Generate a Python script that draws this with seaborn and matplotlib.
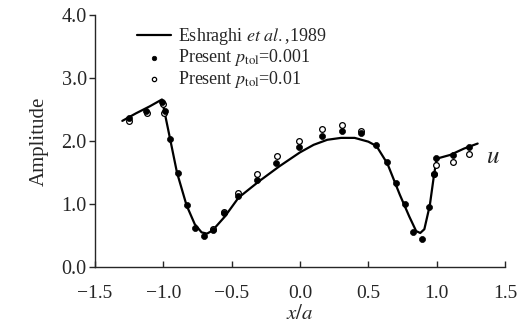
import matplotlib
matplotlib.use("Agg")
import matplotlib.pyplot as plt
import seaborn as sns
import pandas as pd

# Eshraghi et al., 1989 (solid line)
line_x = [-1.30, -1.20, -1.10, -1.01, -0.95, -0.90, -0.83, -0.77, -0.72, -0.68, -0.64,
          -0.55, -0.45, -0.30, -0.15, 0.00, 0.10, 0.20, 0.30, 0.40, 0.50, 0.56, 0.64,
          0.73, 0.80, 0.85, 0.88, 0.91, 0.95, 0.98, 1.00, 1.10, 1.20, 1.30]
line_y = [2.32, 2.44, 2.55, 2.66, 2.03, 1.50, 0.98, 0.68, 0.55, 0.53, 0.58,
          0.80, 1.10, 1.36, 1.60, 1.82, 1.94, 2.02, 2.05, 2.05, 1.99, 1.92, 1.64,
          1.15, 0.80, 0.57, 0.54, 0.60, 0.98, 1.45, 1.72, 1.78, 1.88, 1.96]

# Present p_tol = 0.001 (filled dots)
p1_x = [-1.25, -1.125, -1.01, -0.985, -0.95, -0.896, -0.83, -0.768, -0.705, -0.64,
        -0.558, -0.454, -0.317, -0.172, -0.01, 0.16, 0.31, 0.444, 0.553, 0.638,
        0.705, 0.766, 0.83, 0.893, 0.947, 0.983, 0.995, 1.116, 1.237]
p1_y = [2.37, 2.48, 2.62, 2.48, 2.03, 1.49, 0.98, 0.62, 0.49, 0.59,
        0.85, 1.13, 1.38, 1.65, 1.90, 2.08, 2.16, 2.12, 1.94, 1.66,
        1.33, 0.995, 0.56, 0.44, 0.96, 1.48, 1.73, 1.78, 1.91]

# Present p_tol = 0.01 (open circles)
p2_x = [-1.25, -1.12, -1.005, -0.998, -0.64, -0.558, -0.45, -0.317, -0.17, -0.01,
        0.16, 0.31, 0.444, 0.98, 0.995, 1.116, 1.24]
p2_y = [2.32, 2.45, 2.59, 2.44, 0.61, 0.88, 1.18, 1.48, 1.77, 2.00,
        2.19, 2.25, 2.16, 1.48, 1.62, 1.67, 1.79]

sns.set_style("ticks")
plt.rcParams['font.family'] = ['Liberation Serif', 'DejaVu Serif']
plt.rcParams['mathtext.fontset'] = 'stix'

fig = plt.figure(figsize=(5.19, 3.35), dpi=100)
ax = fig.add_axes([0.183, 0.203, 0.790, 0.752])

df_line = pd.DataFrame({"x": line_x, "y": line_y})
df_p1 = pd.DataFrame({"x": p1_x, "y": p1_y})
df_p2 = pd.DataFrame({"x": p2_x, "y": p2_y})

sns.lineplot(data=df_line, x="x", y="y", ax=ax, color="black", linewidth=1.6,
             label="Eshraghi $\\it{et\\ al.}$,1989", sort=False)
sns.scatterplot(data=df_p2, x="x", y="y", ax=ax, marker="o", s=17,
                facecolor="white", edgecolor="black", linewidth=0.9,
                label="Present $p_{\\rm tol}$=0.01", zorder=3)
sns.scatterplot(data=df_p1, x="x", y="y", ax=ax, marker="o", s=19,
                color="black", edgecolor="black", linewidth=0.5,
                label="Present $p_{\\rm tol}$=0.001", zorder=4)

handles, labels = ax.get_legend_handles_labels()
order = [0, 2, 1]
ax.legend([handles[i] for i in order], [labels[i] for i in order],
          loc="upper left", bbox_to_anchor=(0.085, 0.985), frameon=False,
          fontsize=13, handlelength=1.9, handletextpad=0.35, labelspacing=0.02,
          borderaxespad=0.0, markerscale=0.75)

ax.set_xlim(-1.5, 1.5)
ax.set_ylim(0.0, 4.0)
ax.set_xticks([-1.5, -1.0, -0.5, 0.0, 0.5, 1.0, 1.5])
ax.set_yticks([0.0, 1.0, 2.0, 3.0, 4.0])
ax.set_xticklabels(["\u22121.5", "\u22121.0", "\u22120.5", "0.0", "0.5", "1.0", "1.5"])
ax.set_yticklabels(["0.0", "1.0", "2.0", "3.0", "4.0"])
ax.tick_params(axis="x", direction="in", length=4, width=1, labelsize=14, pad=13)
ax.tick_params(axis="y", direction="out", length=4, width=1, labelsize=14.5, pad=2)
for s in ["top", "right"]:
    ax.spines[s].set_visible(False)
for s in ["left", "bottom"]:
    ax.spines[s].set_linewidth(1.0)

ax.set_xlabel("$x/a$", fontsize=15, labelpad=2)
ax.set_ylabel("Amplitude", fontsize=15, labelpad=9)

ax.text(1.36, 1.75, "$u$", fontsize=18, va="center", ha="left")

fig.savefig("out.png", dpi=100)
